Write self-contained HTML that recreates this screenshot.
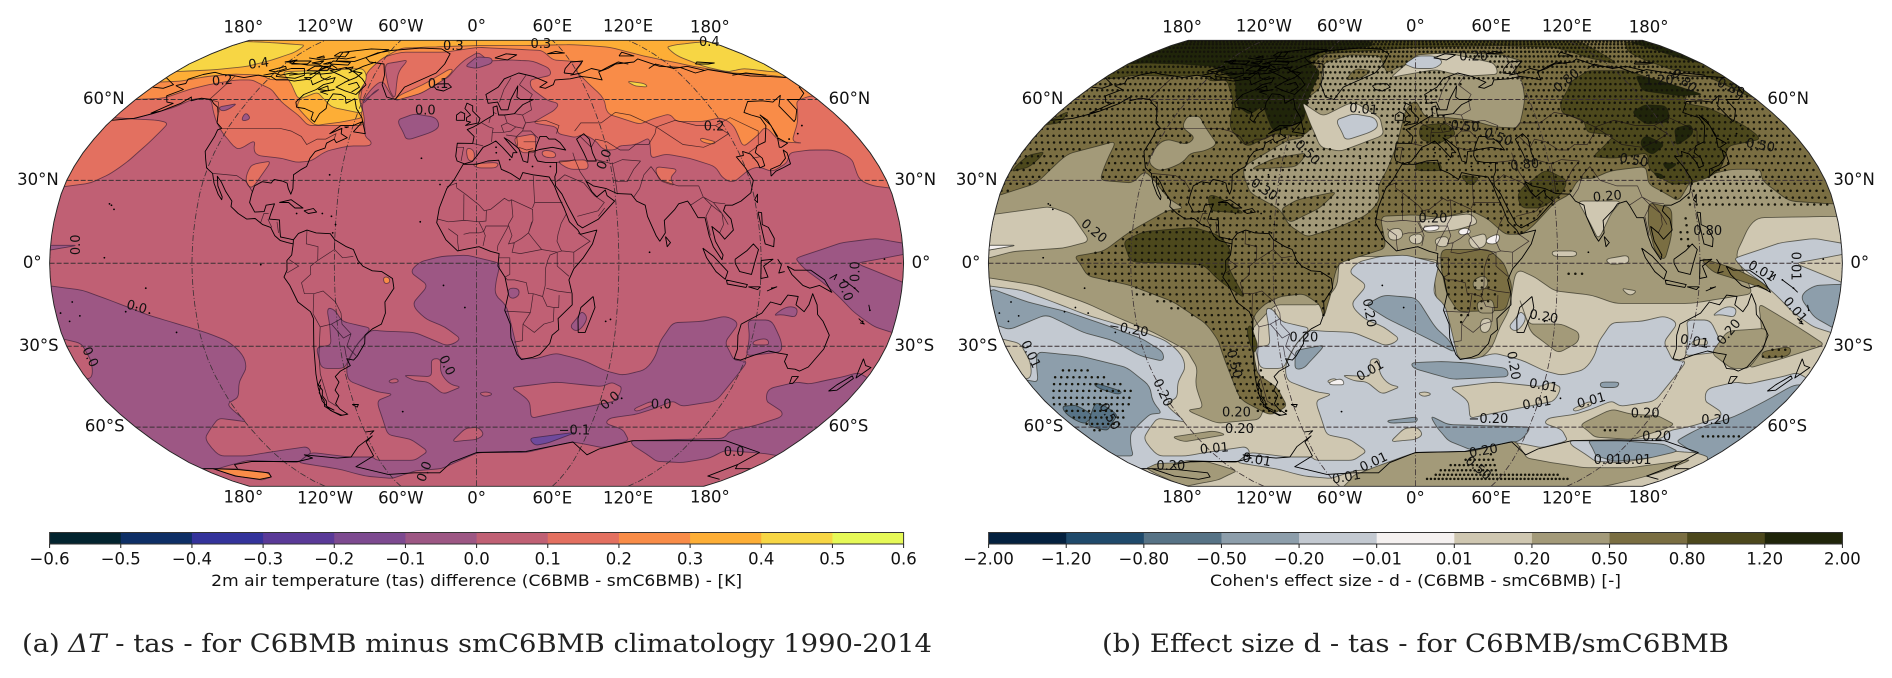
<!DOCTYPE html>
<html lang="en">
<head>
<meta charset="utf-8">
<title>C6BMB minus smC6BMB tas difference and effect size</title>
<style>
html,body{margin:0;padding:0;background:#fff;width:1892px;height:678px;overflow:hidden}
svg{display:block;filter:blur(.3px)}
text{font-family:"DejaVu Sans","Liberation Sans",sans-serif;fill:#111}
.cap{font-family:"DejaVu Serif","Liberation Serif",serif;font-size:25.5px;fill:#222}
</style>
</head>
<body>
<svg id="figure" xmlns="http://www.w3.org/2000/svg" width="1892" height="678" viewBox="0 0 1892 678">
<rect width="1892" height="678" fill="#fff"/>
<g id="panelA"></g>
<g id="panelB"></g>
<text class="cap" x="22" y="652" textLength="910" lengthAdjust="spacingAndGlyphs">(a) <tspan font-style="italic">ΔT</tspan> - tas - for C6BMB minus smC6BMB climatology 1990-2014</text>
<text class="cap" x="1102" y="652" textLength="627" lengthAdjust="spacingAndGlyphs">(b) Effect size d - tas - for C6BMB/smC6BMB</text>
</svg>
<script>
/* ---------- colour bar data ---------- */
const tempLevels=["−0.6","−0.5","−0.4","−0.3","−0.2","−0.1","0.0","0.1","0.2","0.3","0.4","0.5","0.6"];
const tempColors=["#03242f","#0e2f66","#34339b","#5a3a98","#7d4a90","#9d5784","#c06074","#e37060","#f98c48","#fdae36","#f7d644","#e6f957"];
const effectLevels=["−2.00","−1.20","−0.80","−0.50","−0.20","−0.01","0.01","0.20","0.50","0.80","1.20","2.00"];
const effectColors=["#04213f","#1f4a6b","#577386","#8d9eab","#c3c9d1","#f5f1f0","#cfc7b1","#a39a79","#7a6e42","#4c481c","#20250a"];
const lonTicks=[-180,-120,-60,0,60,120,180];
const lonTickLabels=["180°","120°W","60°W","0°","60°E","120°E","180°"];
const latTicks=[60,30,0,-30,-60];
const latTickLabels=["60°N","30°N","0°","30°S","60°S"];

/* ---------- geography: lon, lat ---------- */
const coastlines=[
[[-168,65.6],[-164,66.5],[-166,68.3],[-161,70.3],[-156,71.3],[-150,70.4],[-141,69.7],[-135,69],[-128,70],[-124,69.5],[-120,69.5],[-115,68],[-108,68],[-104,67.5],[-100,68],[-96,68.3],[-94,71.5],[-90,69],[-86,68],[-82,69],[-81.5,67],[-86,66],[-88,64],[-93,62],[-94.5,59],[-92.5,57],[-88,56.5],[-82.5,55],[-82,52.5],[-79.5,51.3],[-79,54.5],[-77,56.5],[-78,59],[-77.5,62.3],[-73,62],[-70,61],[-68,58.5],[-64.5,60.3],[-61.5,56.5],[-57,53],[-56,51.5],[-60,50],[-66,50],[-70,47],[-65,49],[-64.5,47],[-61,45.5],[-65.5,43.7],[-67,45],[-70,43.5],[-70,41.7],[-74,40.5],[-75.5,38],[-76,35],[-78,34],[-81,32],[-80,27],[-80.5,25],[-82,27],[-83,29],[-85,29.7],[-89,30.3],[-90,29],[-94,29.5],[-97,28],[-97.5,25],[-97.8,22],[-95,18.5],[-91,18.7],[-90.5,21],[-87,21.5],[-88,18],[-88.5,16],[-84,15.7],[-83.5,12],[-83,9.5],[-80,9],[-77.5,8.5],[-77.5,7],[-80,7.5],[-83,8.2],[-85.5,10],[-87.5,13],[-91,14],[-94.5,16.2],[-98,16],[-102,18],[-105.5,20.5],[-105.5,22.5],[-109,26],[-112,29.5],[-114.5,31.5],[-113,28],[-110,24],[-110,23],[-112,25],[-115,29],[-117,32.5],[-120.5,34.5],[-122.5,37.5],[-124.5,40.5],[-124,46],[-124.5,48.4],[-123,49],[-127,51],[-130,54.5],[-133,57],[-137,58.5],[-140,60],[-146,60.5],[-150,59.5],[-152,61],[-154,58.5],[-160,55.5],[-164,54.7],[-158,58.5],[-162,59],[-166,61.5],[-161,64],[-168,65.6]],
[[-77.5,8.5],[-75.5,10.8],[-72,12],[-68,11],[-62,10.7],[-60,8.5],[-55,6],[-52,5],[-50,1],[-48,-1],[-44,-2.7],[-40,-3],[-35.5,-5.5],[-35,-9],[-39,-14],[-39,-18],[-41,-22],[-45,-23.7],[-48.5,-26],[-49,-29],[-53,-33.5],[-55,-35],[-58,-34.5],[-57,-37],[-62,-39],[-65,-41],[-64,-43],[-67,-46],[-66,-48],[-69,-51],[-68,-53],[-65,-55],[-69,-55.5],[-73,-53.5],[-75,-50],[-74.5,-45],[-73.5,-40],[-71.5,-30],[-70,-20],[-71,-17.5],[-76,-14],[-79,-8],[-81.3,-5],[-80,-2.5],[-80,1],[-78,3],[-77.5,7],[-77.5,8.5]],
[[-6,35.8],[0,35.8],[5,37],[10,37.3],[11,34],[15,32.5],[19,30.3],[20.5,32.8],[25,32],[32,31.2],[34,28],[35.5,24],[37.5,20],[39.5,15],[43,12],[44,10.5],[51,12],[49,7],[45,2],[41,-2],[39,-6],[40.5,-11],[40.7,-15],[35,-20],[35.5,-24],[32.8,-26],[32,-29],[28,-33],[25,-34],[20,-34.8],[18,-33],[15,-27],[14.5,-22],[12,-17],[13.5,-11],[12,-5],[9,-1],[9.5,3.5],[6,4.3],[1,6],[-4,5.2],[-8,4.5],[-13,8.5],[-17,14.7],[-16,20],[-13,27],[-10,30],[-6,35.8]],
[[-5.5,36],[-2,36.8],[0,38.7],[3,42],[6,43],[9,44.3],[12,42],[16,38.2],[16.7,40],[18.5,40],[13,45.5],[15,44.5],[19.5,41.5],[21,37],[23,36.5],[24,40.5],[27,40.7],[29,41.2],[35,42],[41,41],[39,43.7],[37,45],[34,45],[33,46],[30,46],[28,43],[27,41],[26.5,39],[27.5,37],[31,36.5],[36,36.5],[35.5,33],[34.5,31.3],[34.5,28],[37,25],[39,21],[43,14],[45,12.8],[52,16],[59.5,22.5],[56.5,24.5],[56,26.5],[52,24],[50,26],[48,29.7],[51,28],[56.5,27],[61,25.2],[67,25],[69,22.5],[72.5,21],[73,17],[76,10],[77.5,8],[80,11],[80,15.5],[85,19.5],[87,21.5],[91,22.5],[92,21],[94.5,16.5],[97.5,16.5],[98.5,10],[100,6],[103.5,1.3],[104,3],[101,8],[100,13.3],[103,11],[105,8.7],[109,12],[108.5,16],[105.8,19],[107,21],[110,21],[114,22.5],[119,25.5],[121.5,30],[120,34.5],[118,38.5],[121.5,39],[122,40.5],[125,39.5],[126.5,36.5],[126.5,34.5],[129,35.3],[129.5,38],[127.5,40],[130,42.5],[135,44],[140.5,50],[141,53],[137.5,54],[135,55],[142,59.2],[150,59.5],[155,59],[163,61.7],[156,57.5],[156,51.5],[158,52.5],[163,56],[164,60],[170.5,60],[177,62.5],[179,65],[180,65],[180,69],[170,69.5],[160,69.7],[150,71],[140,72.5],[130,71],[125,73.5],[113,74],[105,77.5],[100,76],[87,75],[80,73],[73,71.5],[72,68],[66,69],[61,69.5],[54,68.5],[45,68],[43,66],[38,64.5],[35,65],[40,67],[33,69.5],[25,71],[16,68.5],[12,65],[5,62],[6,58.5],[11,59],[12.5,56],[16,56],[18,60],[23,65.5],[21.5,61],[23,60],[30,60],[24,58],[21,56],[19,54.5],[14,54],[11,54],[10.5,57.5],[8.5,57],[8.5,54],[4,52],[1.5,50.8],[-1.5,49.5],[-4.5,48.5],[-1.2,46],[-1.8,43.4],[-9,43.5],[-9.5,38.7],[-8.8,37],[-5.5,36]],
[[-180,65],[-173,64.5],[-170,66],[-175,67.5],[-180,69]],
[[-5.5,50],[1,51],[1.7,52.7],[-2,55.5],[-2,57.5],[-5,58.6],[-6,56.5],[-3,54],[-5,53],[-5,51.7],[-3,51.3],[-5.5,50]],
[[-10,52],[-6,52],[-6,54.5],[-8,55.2],[-10,54],[-10,52]],
[[-24,65.5],[-22,64],[-18,63.4],[-14,65],[-16,66.4],[-22,66.3],[-24,65.5]],
[[-73,78.2],[-68,80.5],[-60,82],[-40,83.5],[-25,83],[-18,80],[-20,75],[-24,71],[-32,68],[-40,65],[-43,60],[-48,61],[-53,66],[-54,70],[-58,75],[-68,76],[-73,78.2]],
[[-62,66],[-65,62],[-72,63.5],[-78,65],[-73,68],[-80,70],[-88,72],[-80,73.5],[-72,71],[-66,68.5],[-62,66]],
[[-125,72],[-118,74],[-116,73],[-120,71.5],[-125,72]],
[[-117,69.5],[-105,68.7],[-101,70],[-105,73],[-113,73],[-118,71.5],[-117,69.5]],
[[-116,75],[-106,75],[-106,76.5],[-116,76.5],[-116,75]],
[[-102,72],[-95,71.8],[-93,74],[-100,74],[-102,72]],
[[-95,72],[-90,72],[-90,74],[-95,74],[-95,72]],
[[-92,75],[-80,74.5],[-80,75.8],[-92,76.5],[-92,75]],
[[-95,79],[-87,78.5],[-88,81],[-94,81],[-95,79]],
[[-90,76.5],[-78,76.3],[-62,82.5],[-75,83],[-92,81],[-90,76.5]],
[[-87,64],[-81,63.5],[-83,65.5],[-87,64]],
[[-100,69],[-96,69],[-96,68],[-100,69]],
[[-122,76],[-116,77],[-118,76],[-122,76]],
[[-96,75],[-93,75],[-93,76],[-96,75]],
[[-104,75.5],[-98,75],[-98,76.5],[-104,75.5]],
[[-105,78],[-100,78],[-102,79],[-105,78]],
[[-80,73],[-76,72.7],[-76,73.7],[-80,73]],
[[-64,49.5],[-62,49.5],[-63,49.2],[-64,49.5]],
[[-59,47.7],[-53,47],[-56,51.5],[-59,47.7]],
[[52,71],[57,70.6],[68,76.5],[60,76],[54,73],[52,71]],
[[12,78],[20,80],[27,79.5],[20,77],[12,78]],
[[95,79],[105,79],[100,81],[95,79]],
[[137,75],[145,75],[150,75.5],[140,76],[137,75]],
[[48,80],[60,80.5],[55,81.5],[48,80]],
[[-85,22],[-80,23],[-74.5,20],[-78,20],[-81,22],[-85,22]],
[[-74,19],[-70,19.8],[-68.5,18.5],[-72,18],[-74,19]],
[[49.5,-12],[50.5,-16],[47,-25],[44,-25],[43.5,-20],[44.5,-16],[49.5,-12]],
[[80,9.7],[82,7.5],[80.5,6],[80,9.7]],
[[95.5,5.5],[100,2.5],[106,-3],[105,-5.8],[101,-3],[97,2],[95.5,5.5]],
[[105.5,-6],[114.5,-7.7],[114,-8.7],[106,-7.5],[105.5,-6]],
[[109,1.5],[114,4.5],[117,7],[119,5],[117.5,1],[116,-4],[111,-3],[109,0],[109,1.5]],
[[120,1],[125,1.5],[121,-1],[123,-5],[120,-5.5],[120,1]],
[[120.5,18.5],[122,18.3],[121.5,14],[124,13],[126,9],[125.5,6],[122,7],[121,13],[120.5,18.5]],
[[120,23],[121.7,25],[121,22],[120,23]],
[[130,31.5],[131,34],[136,35.5],[140,38],[141,41],[142,40],[141,36],[137,34.6],[133,33.3],[130,31.5]],
[[140,42],[142,45.5],[145,43.5],[141,42],[140,42]],
[[142,46],[143,50],[142,54],[143.5,52],[142.5,46],[142,46]],
[[131,-1],[134,-2.5],[141,-2.5],[147,-6],[150.5,-10.5],[145,-8],[141,-9],[138,-8],[133,-4],[131,-1]],
[[114,-22],[113.5,-26],[115,-31],[115,-34.5],[118,-35],[124,-33],[129,-31.7],[134,-32.5],[138,-33],[138,-35.5],[141,-38],[144.5,-38.3],[147,-39],[150,-37.5],[153,-31],[153.2,-26],[149,-21],[146,-18.5],[145,-15],[142.5,-11],[141.5,-15],[140,-17.5],[136,-15],[136.5,-12],[132,-11.5],[129.5,-15],[125,-14],[122,-18],[118,-20],[114,-22]],
[[145,-41],[148,-41],[147.5,-43.5],[146,-43.5],[145,-41]],
[[172.7,-34.5],[175.5,-37],[178.5,-37.7],[175,-41.5],[174,-39.5],[172.7,-34.5]],
[[172.5,-40.7],[174,-41.7],[170.5,-46],[167,-46.3],[168.5,-44],[172.5,-40.7]],
[[47,45],[51,47],[53,45],[53,40],[54,37],[50,37],[49,40],[47,45]],
[[-61,-51.3],[-58,-51.3],[-59,-52.3],[-61,-51.3]],
[[0,-70.5],[29,-70],[54,-66],[66,-71.5],[71,-69],[87,-65.5],[118,-65.5],[139,-65.5],[167,-70.5],[166,-76],[162,-82],[176,-84]],
[[-157,-78],[-154,-76],[-140,-74.5],[-111,-74.5],[-100,-73],[-103,-71.5],[-85,-73],[-76,-72.5],[-68,-68],[-57,-63.5],[-62,-66],[-62,-72],[-78,-77],[-61,-81],[-42,-80],[-25,-80],[-16,-75],[0,-70.5]],
[[-173,-78],[-157,-78.5],[-141,-80],[-145,-82.5],[-157,-84],[-169,-82],[-173,-78]],
[[-180,52],[-170,52.7],[-163,54.5],[-160,55.5]],
[[-110,70],[-100,71],[-92,70.5],[-86,71],[-82,72.5]],
[[-75,67],[-70,69],[-68,71],[-76,72]],
[[-98,70],[-94,72.5],[-90,74.5],[-85,73]],
[[-73,-44],[-75,-47],[-74,-50],[-75,-52],[-72,-54],[-68,-55.5]],
[[-72,-42],[-74,-44],[-73,-46],[-74,-48],[-73,-50],[-74,-52],[-71,-53.5]],
[[-125,70],[-120,71],[-115,70],[-110,71],[-105,70.5]],
[[-118,75.5],[-110,75],[-105,74.5],[-98,74.5],[-92,73.5],[-86,72.5]],
[[-110,78],[-100,77],[-92,78],[-85,77.5],[-80,78.5]],
[[-95,68],[-92,66],[-88,68],[-85,69.5]],
[[-72,66],[-68,67],[-65,65],[-68,63]],
[[-80,62],[-85,63],[-78,64]],
[[-64,76],[-70,74],[-76,71]],
[[55,70],[62,71],[70,73],[75,72],[82,74],[90,76],[95,75]],
[[105,73],[112,75],[120,73],[130,74],[138,72]],
[[150,70],[160,71],[170,70]],
[[123,-10],[127,-8.5],[125,-9]],
[[115,-8.5],[120,-8.5],[119,-9.5],[115,-8.5]],
[[127,1.5],[128.5,-0.5],[127.5,-3.5],[130,-3]],
[[149,-5.5],[152,-4],[151,-6]],
[[155,-6],[160,-9],[162,-10.5]],
[[167,-15],[168,-17]],
[[164,-20],[167,-22],[165,-21.5]],
[[-60,-62],[-55,-61.5],[-58,-63]],
[[166,-76],[170,-78],[180,-78]],
[[-180,-78],[-173,-78]]
];
const smallIslands=[[-155.5,19.5],[-157,21],[-158,21.5],[-91,-0.5],[-150,-17.5],[-145,-16],[-140,-9],[-172,-14],[-175,-21],[-178,-18],[168,-17],[166,-21],[160,-9],[155,-6],[172,1.5],[-157,2],[-140,-18],[-170,-19],[-130,-25],[57.5,-20.3],[55.5,-21],[73,4],[-25,38],[-16,28.5],[-24,15],[-5,-16],[-14,-8],[-37,-54],[70,-49],[158,50],[147,45],[153,47],[125,-9],[-60,14],[-62,17],[-66,18],[-61,11],[-77,18],[-65,32],[15,37.5],[9,40],[9,42],[33,35],[25,35],[-50,0]];
const countryBorders=[
[[-8.7,27.4],[-8.7,29],[-13,27.7]],[[-8.7,27.3],[-4.8,25],[1.2,21],[3.3,19],[4.2,19.2],[6,19.5],[12,23.5],[14,22.5],[15,23]],[[25,31.7],[25,22],[24,20]],[[25,22],[37,22]],[[15,23],[24,19.5],[24,15.5]],[[15,23],[15.5,16.9],[13.5,14],[15,10],[13.5,7],[16,7.5],[19,9],[22,11],[23.5,15]],[[4.2,19.2],[4,15.3],[1,15],[3,11.5],[3.7,10],[2.7,6.3]],[[-12,15],[-5,15.5],[1,15]],[[-16.5,16],[-12,15],[-5.5,15.5],[-5.5,25]],[[-12,12.5],[-8,10],[-8,7.5],[-7.5,4.5]],[[-5.5,10.5],[-3,11],[1,11],[3,11.5]],[[3,11.5],[4,13.5],[13.5,13.5]],[[13.5,13.5],[9,6.5],[8.7,4.5]],[[24,15.5],[22,11],[24,8.7],[27.5,5],[34,4],[36,4.5],[35.5,5],[34,8],[34.5,10.5],[36,14.5],[38.5,18]],[[16,7.5],[15,4],[18.5,3.5],[27.5,5]],[[12,-5],[13,-6],[16,-6],[21,-7],[22,-11],[24,-11],[28,-12],[29,-8],[29,-2],[30,1],[31,3],[34,4]],[[41,4],[36,4.5]],[[34,4],[34,-1],[39,-4.7]],[[41,-1.5],[41,4],[48,8],[43,11]],[[29.5,-9],[34,-10],[40,-10.7]],[[12,-17.3],[23,-17.8],[24,-11]],[[16.5,-28.5],[20,-28],[20,-22],[23,-17.8]],[[20,-22],[25,-25],[29,-22],[33,-21],[33,-16],[30,-15.5],[28,-12]],[[35,-11.5],[35,-16],[33,-16]],[[9.5,2],[14,2],[14,-4],[12,-5]],
[[-72,12],[-72,7],[-67,6],[-67,1],[-70,-1],[-70,-4],[-74,-7],[-73,-11],[-69,-11],[-65,-10],[-60,-14],[-58,-18],[-58,-22],[-54.5,-25.5],[-57,-30],[-53.5,-33.5]],[[-60,8.5],[-60,5],[-56.5,2],[-52,2.5]],[[-67,1],[-60,5]],[[-80,-3.5],[-75,-1],[-79,1.3]],[[-70,-18.3],[-69,-11]],[[-70,-18.3],[-67.5,-23],[-70,-33],[-71.5,-40],[-72,-50],[-69,-52]],[[-67.5,-23],[-62.5,-22],[-58,-20]],[[-62.5,-22],[-58,-27],[-54.5,-25.5]],[[-58,-34],[-58,-30]],
[[-123,49],[-95,49],[-89,48],[-83,46],[-79,43],[-75,45],[-71,45],[-67,47],[-67,45]],[[-141,69.7],[-141,60],[-135,59],[-130,55]],[[-117,32.5],[-106,31.7],[-101,29.5],[-97.5,26]],[[-92,14.5],[-91,18],[-89,18]],[[-89,16],[-87,13]],[[-85,15],[-84,11]],
[[-9,42],[-6,42],[-7,37]],[[-1.8,43.4],[3,42.5]],[[2.5,51],[6,49.5],[8,49],[7.5,47.5],[7,44]],[[6,51],[7,53.5]],[[8.5,55],[10,54.5]],[[14,54],[15,51],[12,50],[13,47.5],[7.5,47.5]],[[15,51],[19,49.5],[22.5,49],[24,51],[23,54],[19,54.5]],[[13,47.5],[16.5,48],[19,49.5]],[[14,46.5],[19,46],[22,48],[26,48],[29,45.3]],[[22,44],[28,44]],[[19.5,42],[23,41],[26,41.5]],[[19,46],[19,42.5]],[[23,54],[28,56],[28,60]],[[24,51],[34,52],[40,50],[38,47]],[[22,48],[24,51]],[[12,59],[15,64],[20,69]],[[24,66],[29,70]],[[24,66],[30,62],[28,60]],
[[36,36.5],[42,37],[44.5,37.5],[44,40]],[[44.5,37.5],[46,33],[48,30]],[[61,25],[61,31],[61,36.5]],[[54,37.5],[61,36],[66,37.5],[74,37]],[[49,46],[53,42],[56,45],[61,44],[66,41],[70,41],[74,43],[80,43],[85,47],[87,49.5]],[[47,48],[51,51],[61,51],[70,55],[77,54],[87,49.5]],[[87,49.5],[98,52],[107,50],[116,50],[120,47],[112,44],[105,42],[96,43],[87,49.5]],[[116,50],[126,53],[135,48],[131,43]],[[124.5,40],[130.5,42.5]],[[125,38],[128.5,38.5]],[[61,29.5],[66,29.5],[70,34],[74,37]],[[68,24],[71,27],[74,32],[78,35]],[[78,35],[81,30],[88,28],[97,28]],[[97,28],[98,24],[92,21]],[[98,24],[101,21],[98,17],[99,10]],[[101,21],[105,18],[105,14],[103,11]],[[102,22],[105,18],[107,14]],[[98,24],[102,22],[107,21.5]],[[35,29.5],[39,32],[47,29],[51,24.5],[55,22],[52,19],[43,17]],[[55,20],[52,17]]
];

/* ---------- shared zero-contour regions ---------- */
const negPacificSouth=[[-182,-8],[-167,-9.7],[-154,-14],[-140.8,-18.7],[-127.4,-22.3],[-116.4,-25.3],[-108.5,-28.2],[-103.6,-33],[-104,-37.7],[-111,-43.5],[-114.4,-48.5],[-121.8,-51],[-122,-53],[-118.8,-58],[-132,-56.5],[-150,-64.5],[-153,-68.5],[-154.6,-72],[-138,-72],[-118.5,-70],[-97,-68],[-97.5,-70.5],[-111.7,-75],[-141,-74],[-170,-78],[-182,-78]];
const negAtlanticIndian=[[-24,0.5],[-28.2,-3],[-20.5,-8],[-27.7,-15],[-22.2,-20],[-13.7,-23],[-6.6,-27.5],[-12.5,-30],[-26.8,-25],[-41.3,-24.5],[-45.5,-24],[-52.7,-29.5],[-59,-37.5],[-59.6,-42.5],[-47.5,-46.5],[-40,-47.5],[-48.6,-50],[-48.2,-55.5],[-48.3,-63],[-36.2,-65],[-28.5,-70],[-38.2,-74],[-62,-74],[-62.7,-72.5],[-76.9,-72.5],[-97.5,-70.5],[-111.7,-75],[-89,-78.5],[-78,-82],[-60.8,-83.5],[-41,-79],[-23,-78],[1,-70.5],[29,-70.5],[54,-66],[73,-68.5],[85,-65.5],[78,-61],[67,-58.5],[68,-56.5],[80.6,-55],[87.7,-53],[95.2,-50],[101.4,-52],[116.3,-50],[118.8,-42.5],[121.4,-35.5],[115,-35],[108.5,-28.5],[113,-21.5],[107,-19],[97.2,-21],[84.4,-21.5],[80,-28.5],[79.8,-33.5],[77,-38.5],[67,-40.5],[59,-39],[47.5,-35],[35,-32.5],[26.5,-34.5],[19,-34.5],[17.3,-29.5],[12.6,-15],[7.6,-11.5],[8.2,-6.5],[10,0],[-4,3],[-15,2.5]];
const negPacificEast=[[137.3,-45.5],[148.6,-43],[155.5,-43.7],[169.7,-40.8],[174,-39.5],[182,-42],[182,-72],[171.7,-71],[144.5,-69.5],[142.5,-73],[129,-75],[112,-74.5],[89,-67.5],[86,-65.5],[136.7,-64.5],[135.5,-61.5],[146,-59.5],[155.6,-56],[153,-54],[140.5,-50]];
const negWestPacific=[[135,2],[147.5,5.5],[154.5,7.5],[169,9],[182,7],[182,3.5],[160,0],[182,-7.5],[182,-25.5],[171.7,-23],[166.7,-20.5],[161,-17.5],[153,-11.5],[146,-6.7],[139,-2.5],[135,1]];
const negDatelineWedge=[[-182,6.5],[-168.5,6.5],[-182,4.5]];
const negNorthAtlantic=[[-39.4,52],[-31.2,54.5],[-20,53],[-17.8,49.5],[-21.6,47.5],[-32.9,44.5],[-35,47.5]];
const negSouthAmerica=[[-64,-16],[-60.5,-16.7],[-58,-21],[-45.5,-23.5],[-52.7,-29.5],[-57,-34.5],[-59.7,-38],[-70.3,-38],[-70.5,-30.5],[-63.7,-29.5],[-63.3,-22]];
const negAustraliaWest=[[116.5,-20.5],[126.6,-20.5],[133.4,-28.5],[135,-32],[119.8,-33.5],[118.8,-27]];
const negAustraliaNorth=[[127,-19],[132,-15.5],[137,-16],[137,-19.5],[130,-18.5]];
const negMadagascar=[[45,-17],[48,-20],[44,-25],[40,-23],[43,-20]];
const negCongo=[[13,-9],[18,-9],[18,-12],[14,-13]];
const negWesternCanada=[[-133,57],[-124,58.5],[-128,55]];
const negPrairie=[[-117,55.3],[-111.5,52.5],[-116,51.5]];
const negLabrador=[[-60,59],[-53,64.5],[-56,63],[-58.5,58.5]];
const posSouthIndian=[[16.2,-45],[37,-43],[59.2,-44.7],[62.6,-43],[68.7,-45],[67.7,-50],[58.8,-51.5],[40,-54.5],[27.9,-56.5],[25.7,-50],[20.4,-47]];
const posKerguelen=[[78,-53],[85,-50],[87,-51.5],[80,-54]];
const posSouthAtlanticA=[[1,-47],[5,-46.5],[8,-47.5],[4,-48.5]];
const posSouthAtlanticB=[[-14,-66],[-6,-60.5],[1,-60],[4.3,-63],[0,-65],[-8,-65.5]];
const posSouthAtlanticC=[[-41,-42.5],[-37,-41.5],[-36,-43],[-40,-43.5]];
const posSouthAtlanticD=[[-33.8,-40.5],[-20.7,-41],[-20.2,-34.5],[-15.7,-34.5],[-16.8,-39.5],[-12.5,-44],[-7,-44.7],[-16,-47.5],[-22.5,-43],[-28.7,-42.5]];
const posPacificPocket=[[-182,-27],[-173,-29],[-172.5,-35.5],[-177,-41.5],[-182,-42]];
const posAustralia=[[121,-28],[126.5,-27],[128.5,-29.5],[121,-29.5]];
const negativeRegions=[negPacificSouth,negAtlanticIndian,negPacificEast,negWestPacific,negDatelineWedge,negSouthAmerica,negAustraliaWest,negAustraliaNorth,negMadagascar,negCongo];
const positiveIslands=[posSouthIndian,posKerguelen,posSouthAtlanticA,posSouthAtlanticB,posSouthAtlanticC,posSouthAtlanticD,posPacificPocket,posAustralia];

/* ---------- panel (a) warm regions ---------- */
const salmonNorth=[[-182,53],[-170,52.5],[-155,57],[-149.6,60.5],[-140,60],[-129.4,52.5],[-120,46.5],[-117,45],[-113,42.5],[-109,41],[-104,45],[-102.6,41],[-100,39],[-88.5,38],[-81,36.5],[-74.5,37],[-69.5,40.5],[-59.6,42.5],[-49.5,42.5],[-49,44],[-53,46],[-54,49.5],[-60,59],[-58,64.5],[-54,68],[-43,59.5],[-30,62.5],[-18.4,68.5],[-16.5,69],[-12.4,73.5],[-7.6,77],[1,81],[8,76.5],[21,77],[36,76.5],[44.6,73],[43.7,70],[30.5,68],[30,64.5],[37.5,59.5],[43,58.5],[40,56],[31,52.5],[27.5,51],[39,49.5],[38.6,47],[47,45.5],[50.5,47],[56,44.5],[58,41],[64,41],[66,42.5],[74,43],[81.5,45.5],[79,38],[86.5,39.5],[96.5,38],[107,35],[108,31],[112,29],[121.6,34],[126.5,35],[131,33],[140,36.5],[143,40],[153,41],[164.4,41],[170,38],[169,35],[168,30],[173,28],[182,27],[182,92],[-182,92]];
const salmonPacific=[[-182,27.5],[-169,29],[-162,32.5],[-157,37],[-153,43.5],[-151,49],[-151,51],[-157,52],[-170,52.5],[-182,53]];
const salmonPlains=[[-99.5,36],[-92.5,37],[-95,32],[-98,26.5],[-101.8,30],[-101.4,35]];
const salmonIberia=[[-5,42],[-1,41],[-1,37],[-4,37]];
const salmonMaghreb=[[-2,36],[10,36.5],[9,34.5],[0,34.5]];
const salmonBalkans=[[17,45.5],[28,47],[27,40],[20,40]];
const salmonTurkey=[[30,41],[36,40.5],[36,38],[30,38.5]];
const salmonPersia=[[36,37],[50,37.5],[50,34],[41,34]];
const salmonHimalaya=[[79.5,35],[90,34],[85,31],[86.5,28],[80,30]];
const pinkGreenland=[[-57.5,75],[-44,77],[-47,72],[-43,60],[-47.6,63.5]];
const violetAmery=[[29,-64.5],[54,-62],[40,-66.5],[33,-67.5]];
const violetBarents=[[-7,74],[0,78.5],[10,78],[10,75.5],[0,73]];
const orangeNorth=[[-182,60],[-166,60.5],[-158,64],[-150.5,66],[-138,68],[-128.6,68],[-112.5,64],[-102,59],[-89.4,54],[-81.8,50],[-77,50],[-55,50],[-55.6,53],[-61,59],[-65,69],[-68,75.5],[-62.7,78],[-51.8,81],[-22,81],[1,84],[23.5,83],[46.4,82],[49,77],[67.5,76],[59.7,72],[61,69.5],[63.7,65.5],[67.9,60.5],[65.3,54.5],[71,53],[79.4,50.5],[87,52.5],[97.2,54.5],[98,51.5],[111,51.5],[121.6,53],[125,50.5],[123.2,42],[134.7,47],[140.5,50],[141.5,44],[152.5,43.5],[147.5,44],[152,47.5],[159,52.5],[168,59.5],[179,61.5],[182,61],[182,92],[-182,92]];
const orangeGreenlandRim=[[-43,59.5],[-30,62.5],[-18,68.5],[-14,72],[-16,73],[-30,66],[-42,61.5]];
const orangeRoss=[[-173,-78],[-157.7,-78],[-141.5,-80],[-144.8,-82.5],[-157,-84.5],[-168.7,-82]];
const orangeNortheastBrazil=[[-39.5,-5],[-37,-5],[-36.5,-7],[-39,-7.5]];
const orangeTibet=[[105.5,45.5],[112,44],[110,43],[105,44]];
const amberNorth=[[-182,67],[-168.7,67.5],[-157,69.5],[-143,70.5],[-126,70],[-118,68],[-109,68.5],[-102,67],[-93,60],[-93,57.5],[-78.6,50],[-65,51.5],[-56.4,53],[-63.8,60.5],[-63,65.5],[-65.5,71],[-62,77.5],[-54,83.5],[-21,84.5],[0,85],[36.5,85],[70,86],[96.5,84],[111,79],[133.7,74],[152,71],[172,70],[180,69],[182,69],[182,92],[-182,92]];
const amberYenisei=[[85.5,67.5],[95,66.5],[95,65],[88,65.5]];
const yellowWest=[[-182,71.5],[-158,72.5],[-141,74],[-132,77],[-125,81],[-127,85.5],[-160,88],[-182,89]];
const yellowEast=[[137.7,84],[150,86],[169,88],[182,89],[182,71.5],[177,71.5],[163,73],[150,71.5],[140,74],[133.6,79]];
const yellowCanada=[[-116,71.5],[-68.5,73],[-62.6,68],[-64.6,63],[-57,54.5],[-74.4,57],[-86.5,63],[-94,60],[-104.5,66.5]];

/* ---------- panel (b) regions ---------- */
const lightSouth=[[-182,-5],[-160,-8],[-139.8,-14.5],[-126.7,-20],[-113.5,-25],[-100.8,-31.5],[-98.7,-38],[-102.7,-43.5],[-105,-52.5],[-114,-53.5],[-103.5,-58.5],[-80,-57],[-72,-50],[-72,-25],[-60,-15],[-40,-15],[-33,-8],[-32,2.5],[-5,2.5],[10,1],[8,-6],[9,-14],[13,-25],[18,-33],[20,-36],[30,-34],[34,-30],[36,-24],[40,-17],[41,-10],[42,-4],[44,-2.5],[50.4,-5],[59,-10],[74.8,-11.5],[84.9,-14.5],[117.5,-14.5],[143,-11],[135,3],[141.4,13],[146,16.5],[182,17],[182,-92],[-182,-92]];
const lightTropicalPacific=[[-182,17.5],[-157,20.5],[-146.8,17.5],[-137.6,8],[-148.6,5.5],[-169.6,4.3],[-182,1.5]];
const lightLabrador=[[-59.4,59],[-46,53.5],[-34.8,58.5],[-30.5,58.5],[-17.5,53],[-15,46.5],[-34.4,40.5],[-44,42],[-47.5,46.5],[-54.3,54]];
const lightNordic=[[-14.6,69],[1,79.5],[22,80.5],[50,75.5],[49,70.5],[29,69.5],[12,72.5],[0,71]];
const lightSahel=[[1,15.5],[14,17],[24,18],[27,14.5],[17,12],[4,11]];
const lightGuinea=[[-12,12],[-6,13],[-5,9],[-11,8]];
const lightVolta=[[-3,10],[3,11],[3,7],[-2,7]];
const lightCameroon=[[8,9],[14,10],[14,6],[9,6]];
const lightUbangi=[[22,9],[30,11],[30,6],[24,5]];
const lightLimpopo=[[28,-20],[33,-20],[32,-25],[28,-25]];
const lightIndia=[[70,22.5],[89,22.5],[84,18.5],[77.4,8.5],[73.6,16]];
const lightArabianEllipse=[[57.5,4.5],[68,4.5],[68,2.5],[58,2.5]];
const lightBayEllipse=[[80,1.5],[90,3],[90,0],[82,-0.5]];
const lightJavaSea=[[87,-9],[94,-10],[91,-12]];
const whiteAtlanticStreak=[[-40,-43],[-34,-41.5],[-33,-44],[-40,-44]];
const whiteSahelWest=[[3,13],[10,14],[10,12],[4,11.5]];
const whiteSahelCentral=[[18,12],[22,13],[24,11],[19,10]];
const whiteSahelEast=[[30,9],[36,11],[35,7],[30,7]];
const whiteDatelineBar=[[-182,6.5],[-168.5,6.5],[-182,4.5]];
const grayNordic=[[-7,75],[1,79],[13,79],[18,76],[12,73],[0,73]];
const blueEquatorialBand=[[-180,-9],[-165,-14],[-149,-17.5],[-133,-22.5],[-118.7,-27.5],[-111.5,-32],[-112.8,-35.5],[-122.3,-33.5],[-131.8,-28],[-144,-25],[-158,-18.5],[-175.4,-24],[-182,-22]];
const blueSouthwest=[[-167.5,-32],[-149,-33.5],[-130.5,-37.7],[-124.3,-44.5],[-127.9,-50],[-127.4,-54.5],[-134,-55],[-154,-62.5],[-169.7,-72],[-182,-72],[-182,-42],[-175.3,-43]];
const blueSouthAtlantic=[[-21.3,-15],[-13.5,-11.5],[0.5,-12.5],[8.4,-23],[15,-28],[18,-32.5],[0,-25],[-12.2,-20]];
const blueCapeBand=[[-2,-36],[12,-35.5],[23,-36],[41.5,-38],[43,-41],[17,-42],[-1,-38]];
const blueArgentineBasin=[[-53,-31.5],[-39.5,-29.5],[-44.5,-33.5],[-50.6,-38],[-54.7,-38.5]];
const blueEnderby=[[7.4,-55.5],[17,-59],[61.4,-60],[59,-65.5],[32.7,-69.5],[18.3,-65.5],[11.2,-60]];
const blueSoutheast=[[146,-65],[151,-60],[162.4,-56],[170,-50],[177,-44],[182,-44],[182,-75],[177.5,-72.5],[162,-70],[147,-66]];
const blueWilkes=[[96.4,-65.5],[115,-65.5],[141,-67],[154,-70],[142.5,-73],[124,-74.5],[108.6,-72]];
const bluePacificTropic=[[164.5,-10.5],[169,-8],[182,-7.5],[182,-24],[171,-19.5],[164,-13]];
const blueDrake=[[-15,-57.5],[1,-56],[1,-58],[-13,-58.5]];
const blueIndianEllipse=[[86,-43],[95,-43],[95,-45],[87,-45]];
const deepBlueA=[[-174.6,-52],[-166.4,-51.5],[-163,-55.5],[-173.4,-59],[-176.6,-55.5]];
const deepBlueB=[[-155,-50],[-150,-55],[-165,-61.5],[-172,-59.5]];
const deepBlueC=[[-150,-43],[-139,-46.5],[-142,-47.7],[-150,-45]];
const tanEastAntarctica=[[0,-70.5],[33,-70],[55.5,-65.5],[68,-73],[85,-75],[110,-77.5],[140,-77.5],[170,-73.5],[165,-80],[150,-90],[100,-92],[-60,-92],[-43,-81.5]];
const tanRoss=[[-177,-78],[-163,-75.5],[-129.7,-74.5],[-119,-79],[-141.8,-84],[-182,-90]];
const tanAustralSea=[[86,-59],[97.6,-53],[109,-55],[122.7,-55.5],[135.6,-59],[132,-61],[120,-65],[98.6,-64]];
const tanAmundsen=[[-133.8,-64],[-108,-61.5],[-102.8,-63],[-130,-66]];
const tanMascarene=[[44,-12.5],[48.6,-22],[63,-22],[71,-25],[71.3,-28.5],[63.3,-32.5],[50,-25]];
const tanCoralSea=[[146,-14.5],[160.5,-21],[179.6,-29.5],[163.5,-34.5],[151,-38],[150,-24.7]];
const tanAustralia=[[131,-32.5],[135,-24.5],[152,-23.5],[153.5,-30.5],[151,-38],[143,-38]];
const tanCongo=[[24,-6],[30,-4],[31,-9],[25,-10]];
const tanZambia=[[26,-14],[33,-13],[34,-18],[27,-18]];
const oliveNorth=[[-182,24],[-165.8,29],[-159,39.5],[-140,44.3],[-139,33.5],[-138.4,30],[-123.4,29],[-120.8,33.5],[-116,31],[-106.7,23.5],[-99.5,20],[-106.5,19],[-121,11.5],[-131.5,4.4],[-144,2.5],[-141,-0.5],[-138.6,-4.5],[-120.5,-8],[-102.8,-14],[-89.9,-22],[-86,-28],[-85.8,-30.5],[-84.7,-40],[-84.7,-49.5],[-73.6,-55.5],[-63.2,-52],[-65,-45],[-72.5,-40],[-71.4,-31.5],[-69.4,-19],[-64.6,-15],[-57.4,-12],[-47.4,-11],[-40.5,-15],[-39.4,-20],[-35.4,-10],[-34.5,-5.5],[-32.6,0],[-12.3,5.5],[-15,17],[0,17.5],[11,16.5],[24,19],[31,16],[38,10.5],[45,10.5],[49.4,13],[60,22],[67,25],[72,31],[77.5,30.5],[87,33.5],[103,35],[102,28.5],[107,26],[113.5,22.5],[121,30],[129,32],[141,34],[154,34],[152,30],[161,22.5],[179,21.5],[182,21.5],[182,92],[-182,92]];
const oliveSoutheastAsia=[[100.4,22],[110,20],[108.5,10],[105,0.7],[101,4.5],[99,14]];
const oliveMaritime=[[120,2],[135,-2],[147,-7],[150,-10],[140,-7],[125,-3]];
const oliveCentralAfrica=[[10.7,5],[31,5],[37.4,0],[41,-8.5],[38.6,-17],[18.3,-17.5],[13.2,-11],[10.7,-1]];
const oliveTasman=[[153,-32],[165,-30],[166.5,-33.5],[155,-34.5]];
const oliveGulfStream=[[-72.5,34.5],[-64,38],[-49.5,40],[-52.8,35],[-72,34]];
const oliveTradeStripe=[[-58,19.5],[-51,23],[-34,26],[-41,20],[-54,14.5]];
const oliveGreenland=[[-37,73],[-26,72],[-32,68.5],[-40,68]];
const tanWesternUS=[[-121,37],[-120,43],[-117,45],[-106,43],[-104,45.5],[-113,49.5],[-114,53.5],[-107.6,53.5],[-101,49],[-92,43],[-97,40.5],[-103,40],[-104.5,36.5],[-110.5,34],[-115,33.5]];
const tanNorthAtlantic=[[-76,32],[-76.8,35],[-71.8,38],[-60.2,44.5],[-52.8,45.5],[-55,49],[-59.4,59],[-52.5,64.5],[-55.8,71.5],[-57.9,75.5],[-44,79.5],[-23.5,79],[-17,71],[-9.4,74],[22.6,81],[58,79.5],[68.5,76.5],[59.7,72],[61,68],[57.8,60],[49.8,49],[38.6,49.5],[27.6,52],[16.3,53],[5,53],[0,60],[-5,56],[-8.6,43],[-12.7,33.5],[-16.8,27.5],[-15,23],[-20.7,17.5],[-33,13],[-46,9.5],[-54,14],[-58,19.5],[-71.7,25.5]];
const darkEurasia=[[75.3,58.5],[89,67.5],[103.7,72],[127.7,72],[135,69],[149.6,64],[140,58.5],[150,57],[156.5,52.5],[161,49],[162.8,45],[145,42.5],[136.5,34.5],[130.7,31.5],[121,29],[112,28.5],[103.8,34],[106.5,40],[90.4,38],[80.5,38.5],[94.6,46.5],[81.8,47.5],[83.4,52],[73.7,54.5]];
const darkNorthAmerica=[[-182,69],[-174.8,68.5],[-165,70],[-143,69.5],[-124,70],[-117,67.5],[-108,68],[-96,60],[-89.6,49],[-78,42],[-67.5,47],[-53,46],[-48.9,50.5],[-58,60],[-56.5,71],[-65,75.5],[-62,80],[1,84],[61,85],[101,84],[114,78],[127,75],[127,92],[-182,92]];
const darkBeringEdge=[[178,61],[173,67],[168,71],[155,72.5],[148,77],[146.8,81],[161,88],[182,89],[182,61]];
const darkMiddleEast=[[44,24],[46,27],[58,34],[67,30],[63.4,25],[54,20],[45.6,20]];
const darkMaghreb=[[0,36.5],[11,36.5],[12,33.5],[0,33.5]];
const darkLibya=[[19.5,32],[28.5,31],[24,27.5]];
const darkEurope=[[2,50],[15,51],[20,47],[10,43],[2,45]];
const darkEastPacific=[[-123.5,8],[-115,11.5],[-94,13],[-82.7,10],[-77.4,4.5],[-79.4,0],[-78,-3],[-72,-13],[-84,-5.5],[-89,-0.5],[-120,0.5]];
const darkCaribbean=[[-90,25],[-85,24],[-77,20],[-73,18],[-88,19]];
const darkPacificNorthwest=[[-180,33],[-176.8,39],[-169.5,40.5],[-172,35]];
const darkAleutianEdge=[[-182,50],[-175.5,56],[-174,51]];
const darkAndes=[[-73,-24],[-71,-22],[-69,-30],[-72,-33]];
const darkestNorthAmerica=[[-182,75],[-171,75.5],[-147,75],[-125,74],[-103,68],[-92,57.5],[-82.7,54],[-78.8,58],[-67.8,47.5],[-55,51.5],[-56.7,60.5],[-56.8,71.5],[-70,77],[-65.6,81],[-30.8,85],[-35,89],[-182,90]];
const darkestBeringEdge=[[182,90],[165,88],[168,84.5],[172,79],[178,76],[182,75]];
const darkestSiberiaA=[[109,55],[119,58],[130,57.5],[125,51.5],[112,50.5]];
const darkestSiberiaB=[[104,43],[109,46.5],[116,43],[107.5,39]];
const darkestSiberiaC=[[125,49],[134.5,50.5],[132.5,47],[121,42.5]];
const darkestSiberiaD=[[129,70],[139,68],[155,62],[142,61.5],[124,63.5]];
const darkestChinaA=[[111,36.5],[118,36],[112,33.5]];
const darkestChinaB=[[105,33],[110,32],[108,30]];

/* ---------- stippling masks ---------- */
const stippleWestPacific=[[121,32],[154,34],[161,22.5],[182,21],[182,19],[115,19],[117,4],[110,8]];
const stippleAndes=[[-121,-10.5],[-84.3,-23.5],[-83.6,-33],[-80,-55],[-64.2,-54],[-71,-35.5],[-68.6,-11.5],[-102.5,-10]];
const stippleSouthwest=[[-165,-39],[-150,-38],[-134,-45],[-136.8,-50],[-154.8,-59.5],[-172,-62],[-176.6,-55.5],[-178,-51]];
const stippleEastAntarctica=[[21,-75.5],[34,-73],[45,-71],[56,-80],[93,-79],[111,-84],[7,-84]];
const stippleCentralAfrica=[[10,3],[32,3],[37,-10],[20,-22],[14,-12]];
const stippleIndianPatch=[[63,-2],[73,-2],[73,-6],[63,-6]];
const stippleAustralSea=[[100,-60.5],[108,-60.5],[108,-61.5],[100,-61.5]];
const stippleSoutheastPacific=[[155,-63],[178,-62],[178,-65],[155,-65]];
const stippleAtlanticSouth=[[-60,34],[-15,34],[-15,18],[-20,17.5],[-33,13],[-46,9.5],[-54,14],[-58,19.5]];
const stippleGreenland=[[-58,76],[-22,79],[-20,71],[-40,62],[-50,62]];
const stippleExcludeRussia=[[16,53],[28,52],[50,49],[58,60],[61,68],[30,68],[10,60]];

/* ---------- contour labels: lon, lat, rotation, text ---------- */
const labelsA=[[-136.4,75,-8,"0.4"],[-145,67.5,-5,"0.2"],[-17,84.5,0,"0.3"],[48,86,0,"0.3"],[179,88,0,"0.4"],[-26,55.5,0,"0.0"],[115,49.5,0,"0.2"],[-169,6.7,-90,"0.0"],[-145,-16,15,"0.0"],[-172.4,-34,65,"0.0"],[-13.6,-37,65,"0.0"],[65,-50,-40,"0.0"],[90.7,-51.5,0,"0.0"],[52.4,-61.5,0,"−0.1"],[152,-70.5,0,"0.0"],[160,-3,-90,"0.0"],[156,-10,70,"0.0"],[-21.6,66,0,"0.1"],[58,37.5,-70,"0.0"],[-34.7,-79.5,-70,"0.0"]];
const labelsB=[[-26.4,56,5,"0.01"],[-49.6,40,45,"0.50"],[-66,26.5,35,"0.30"],[-136.5,11.5,40,"0.20"],[38.5,78.5,0,"0.20"],[86.4,67.5,-40,"0.80"],[139,67.5,0,"1.20"],[153,67.5,40,"0.80"],[174,64.5,25,"0.80"],[160,42.5,10,"0.50"],[24,49.5,5,"0.50"],[39,45.5,20,"0.50"],[49,35.5,-5,"0.80"],[98.5,37,10,"0.50"],[83,24,-5,"0.20"],[7.5,16,0,"0.20"],[124,11.5,0,"0.80"],[-124,-24,10,"−0.20"],[-171,-33,65,"0.01"],[-120.6,-47,65,"0.20"],[-81.8,-36.5,75,"0.50"],[-156,-56,60,"0.50"],[-90,-54.5,0,"0.20"],[-93.8,-61,0,"0.20"],[-116.6,-69,-5,"0.01"],[-98,-74,10,"0.01"],[-158,-77,0,"0.20"],[-49,-83,-10,"0.01"],[-26,-75,-25,"0.01"],[-20,-18,80,"0.20"],[-48.6,-27,0,"0.20"],[-20.5,-39,-30,"0.01"],[55,-19.5,10,"0.20"],[44,-37,80,"0.20"],[60,-44.5,10,"0.01"],[59.5,-51,-10,"0.01"],[85.5,-50,-15,"0.01"],[37.5,-57,0,"−0.20"],[116,-55,0,"0.20"],[40,-70,-10,"0.20"],[41,-78,40,"0.50"],[132.5,-64,0,"0.20"],[128,-74,0,"0.010.01"],[155,-57.5,0,"0.20"],[122,-28.5,10,"0.01"],[136,-25,-50,"0.20"],[162,-17,50,"0.01"],[160,-1,90,"0.01"],[146,-3,30,"0.01"]];

/* ---------- Robinson projection ---------- */
const TX=[1,.9986,.9954,.99,.9822,.973,.96,.9427,.9216,.8962,.8679,.835,.7986,.7597,.7186,.6732,.6213,.5722,.5322];
const TY=[0,.062,.124,.186,.248,.31,.372,.434,.4958,.5571,.6176,.6769,.7346,.7903,.8435,.8936,.9394,.9761,1];
const HALF_W=427,HALF_H=223,EQ_Y=263.3;
function makeProjection(cx){
  return function(lon,lat){
    const a=Math.abs(lat),i=Math.min(Math.floor(a/5),17),t=(a-i*5)/5;
    const X=TX[i]+(TX[i+1]-TX[i])*t,Y=TY[i]+(TY[i+1]-TY[i])*t;
    return [cx+HALF_W*X*lon/180,EQ_Y-HALF_H*Y*Math.sign(lat)];
  };
}
const NS='http://www.w3.org/2000/svg';
function el(tag,parent,attrs){
  const e=document.createElementNS(NS,tag);
  for(const k in attrs)e.setAttribute(k,attrs[k]);
  parent.appendChild(e);
  return e;
}
function densify(poly){
  const out=[];
  for(let i=0;i<poly.length;i++){
    const a=poly[i],b=poly[(i+1)%poly.length];
    const n=Math.max(1,Math.ceil(Math.max(Math.abs(b[0]-a[0]),Math.abs(b[1]-a[1]))/6));
    for(let j=0;j<n;j++)out.push([a[0]+(b[0]-a[0])*j/n,a[1]+(b[1]-a[1])*j/n]);
  }
  return out;
}
function smoothPath(poly,proj){
  const p=densify(poly).map(c=>proj(c[0],c[1]));
  const n=p.length,m=(a,b)=>[(a[0]+b[0])/2,(a[1]+b[1])/2];
  let s=m(p[n-1],p[0]),d='M'+s[0].toFixed(1)+' '+s[1].toFixed(1);
  for(let i=0;i<n;i++){
    const q=m(p[i],p[(i+1)%n]);
    d+='Q'+p[i][0].toFixed(1)+' '+p[i][1].toFixed(1)+' '+q[0].toFixed(1)+' '+q[1].toFixed(1);
  }
  return d+'Z';
}
function linePath(pts,proj){
  return pts.map((c,i)=>{const p=proj(c[0],c[1]);return (i?'L':'M')+p[0].toFixed(1)+' '+p[1].toFixed(1);}).join('');
}
function inside(poly,lon,lat){
  let c=false;
  for(let i=0,j=poly.length-1;i<poly.length;j=i++){
    const a=poly[i],b=poly[j];
    if((a[1]>lat)!==(b[1]>lat)&&lon<(b[0]-a[0])*(lat-a[1])/(b[1]-a[1])+a[0])c=!c;
  }
  return c;
}

function drawLayers(group,layers,proj,stroke){
  layers.forEach(function(layer){
    layer.regions.forEach(function(poly){
      const shape=el('path',group,{d:smoothPath(poly,proj),fill:layer.color,stroke:stroke,'stroke-width':0.9,'stroke-linejoin':'round'});
      
      
    });
  });
}

function drawFrame(root,proj,idSuffix,bg,layers,stroke,stipple,labels,levels,colors,barTitle,barTitleLen,x0,x1){
  const outline=[];
  for(let a=-90;a<=90;a+=5)outline.push(proj(180,a));
  for(let a=90;a>=-90;a-=5)outline.push(proj(-180,a));
  const od='M'+outline.map(p=>p[0].toFixed(1)+' '+p[1].toFixed(1)).join('L')+'Z';
  const defs=el('defs',root,{});
  const clip=el('clipPath',defs,{id:'clip'+idSuffix});
  el('path',clip,{d:od});
  const mapGroup=el('g',root,{'clip-path':'url(#clip'+idSuffix+')'});
  
  
  const bgShape=el('path',mapGroup,{d:od,fill:bg});
  
  
  drawLayers(mapGroup,layers,proj,stroke);

  if(stipple){
    let d='';
    const r=1.25;
    for(let lat=-88.75;lat<90;lat+=2.5){
      for(let lon=-180;lon<180;lon+=2.8125){
        if(stipple.include.some(pg=>inside(pg,lon,lat))&&!stipple.exclude.some(pg=>inside(pg,lon,lat))){
          const p=proj(lon,lat);
          d+='M'+(p[0]-r).toFixed(1)+' '+p[1].toFixed(1)+'a'+r+' '+r+' 0 1 0 '+(2*r)+' 0a'+r+' '+r+' 0 1 0 '+(-2*r)+' 0';
        }
      }
    }
    const dots=el('path',mapGroup,{d:d,fill:'#15140a'});
    
    
  }

  latTicks.forEach(function(lat){
    const a=proj(-180,lat),b=proj(180,lat);
    const gl=el('line',mapGroup,{x1:a[0],y1:a[1],x2:b[0],y2:b[1],stroke:'#3a3033','stroke-width':1,'stroke-dasharray':'5 2'});
    
    
  });
  lonTicks.forEach(function(lon){
    const pts=[];
    for(let a=-90;a<=90;a+=5)pts.push([lon,a]);
    const gl=el('path',mapGroup,{d:linePath(pts,proj),fill:'none',stroke:'#3a3033','stroke-width':0.8,'stroke-dasharray':'6 2 1 2'});
    
    
  });

  let borderD='';
  countryBorders.forEach(function(b){borderD+=linePath(b,proj);});
  const borders=el('path',mapGroup,{d:borderD,fill:'none',stroke:'rgba(20,10,20,.72)','stroke-width':0.7});
  
  
  let coastD='';
  coastlines.forEach(function(c){coastD+=linePath(c,proj);});
  const coast=el('path',mapGroup,{d:coastD,fill:'none',stroke:'#000','stroke-width':0.9,'stroke-linejoin':'round'});
  
  
  smallIslands.forEach(function(c){
    const p=proj(c[0],c[1]);
    const dot=el('circle',mapGroup,{cx:p[0],cy:p[1],r:0.9,fill:'#000'});
    
    
  });

  const frame=el('path',root,{d:od,fill:'none',stroke:'#222','stroke-width':0.9});
  
  

  labels.forEach(function(l){
    const p=proj(l[0],l[1]);
    const t=el('text',root,{x:p[0],y:p[1],'font-size':13,'text-anchor':'middle','dominant-baseline':'central',transform:'rotate('+l[2]+' '+p[0]+' '+p[1]+')'});
    t.textContent=l[3];
    
    
  });

  lonTicks.forEach(function(lon,i){
    const p=proj(lon,90);
    const shift=Math.abs(lon)===180?Math.sign(lon)*6:0;
    const extra=Math.abs(lon)===180?1:0;
    const top=el('text',root,{x:p[0]+shift,y:26+extra,'font-size':16.5,'text-anchor':'middle','dominant-baseline':'central'});
    top.textContent=lonTickLabels[i];
    
    
    const bottom=el('text',root,{x:p[0]+shift,y:498-extra,'font-size':16.5,'text-anchor':'middle','dominant-baseline':'central'});
    bottom.textContent=lonTickLabels[i];
    
    
  });
  latTicks.forEach(function(lat,i){
    const a=proj(-180,lat),b=proj(180,lat);
    const gap=Math.abs(lat)===60?11:8;
    const left=el('text',root,{x:a[0]-gap,y:a[1]-1,'font-size':16.5,'text-anchor':'end','dominant-baseline':'central'});
    left.textContent=latTickLabels[i];
    
    
    const right=el('text',root,{x:b[0]+gap,y:b[1]-1,'font-size':16.5,'text-anchor':'start','dominant-baseline':'central'});
    right.textContent=latTickLabels[i];
    
    
  });

  /* colour bar */
  const barTop=532.5,barBottom=544,n=levels.length-1;
  const bx=function(i){return x0+(x1-x0)*i/n;};
  colors.forEach(function(c,i){
    const seg=el('rect',root,{x:bx(i),y:barTop,width:bx(i+1)-bx(i)+0.4,height:barBottom-barTop,fill:c});
    
    
  });
  const bo=el('rect',root,{x:x0,y:barTop,width:x1-x0,height:barBottom-barTop,fill:'none',stroke:'#333','stroke-width':1});
  
  
  levels.forEach(function(v,i){
    const tick=el('line',root,{x1:bx(i),x2:bx(i),y1:barBottom,y2:barBottom+4,stroke:'#222','stroke-width':1});
    
    
    const lab=el('text',root,{x:bx(i),y:559,'font-size':16.5,'text-anchor':'middle','dominant-baseline':'central'});
    lab.textContent=v;
    
    
  });
  const title=el('text',root,{x:(x0+x1)/2,y:580.5,'font-size':16,'text-anchor':'middle','dominant-baseline':'central',textLength:barTitleLen,lengthAdjust:'spacingAndGlyphs'});
  title.textContent=barTitle;
  
  
}

/* ---------- panel a ---------- */
const tc=tempColors;
const layersA=[
 {name:'band-0.1-0.2',color:tc[7],regions:[salmonNorth,salmonPacific,salmonPlains,salmonIberia,salmonMaghreb,salmonBalkans,salmonTurkey,salmonPersia,salmonHimalaya]},
 {name:'band-0.0-0.1',color:tc[6],regions:[pinkGreenland]},
 {name:'band-neg0.1-0.0',color:tc[5],regions:negativeRegions.concat([negNorthAtlantic,negWesternCanada,negPrairie,negLabrador,violetBarents])},
 {name:'band-0.0-0.1',color:tc[6],regions:positiveIslands},
 {name:'band-neg0.2-neg0.1',color:'#6f4a9c',regions:[violetAmery]},
 {name:'band-0.2-0.3',color:tc[8],regions:[orangeNorth,orangeGreenlandRim,orangeRoss,orangeNortheastBrazil,orangeTibet]},
 {name:'band-0.3-0.4',color:tc[9],regions:[amberNorth]},
 {name:'band-0.4-0.5',color:tc[10],regions:[yellowWest,yellowEast,yellowCanada,amberYenisei]}
];
drawFrame(document.getElementById('panelA'),makeProjection(476.6),'A',tc[6],layersA,'rgba(45,25,50,.62)',null,labelsA,tempLevels,tempColors,'2m air temperature (tas) difference (C6BMB - smC6BMB) - [K]',531,49.6,903.6);

/* ---------- panel b ---------- */
const ec=effectColors;
const layersB=[
 {name:'band-0.01-0.20',color:ec[6],regions:[lightSouth,lightTropicalPacific]},
 {name:'band-neg0.20-neg0.01',color:ec[4],regions:negativeRegions},
 {name:'band-0.01-0.20',color:ec[6],regions:positiveIslands},
 {name:'band-neg0.50-neg0.20',color:ec[3],regions:[blueEquatorialBand,blueSouthwest,blueSouthAtlantic,blueCapeBand,blueArgentineBasin,blueEnderby,blueSoutheast,blueWilkes,bluePacificTropic,blueDrake,blueIndianEllipse]},
 {name:'band-neg0.80-neg0.50',color:ec[2],regions:[deepBlueA,deepBlueB,deepBlueC]},
 {name:'band-0.20-0.50',color:ec[7],regions:[tanEastAntarctica,tanRoss,tanAustralSea,tanAmundsen,tanMascarene,tanCoralSea,tanAustralia]},
 {name:'band-0.50-0.80',color:ec[8],regions:[oliveNorth,oliveSoutheastAsia,oliveMaritime,oliveCentralAfrica,oliveTasman]},
 {name:'band-0.20-0.50',color:ec[7],regions:[tanWesternUS,tanNorthAtlantic,tanCongo,tanZambia]},
 {name:'band-0.50-0.80',color:ec[8],regions:[oliveGulfStream,oliveTradeStripe,oliveGreenland]},
 {name:'band-0.80-1.20',color:ec[9],regions:[darkNorthAmerica,darkEurasia,darkBeringEdge,darkMiddleEast,darkMaghreb,darkLibya,darkEurope,darkEastPacific,darkCaribbean,darkPacificNorthwest,darkAleutianEdge,darkAndes]},
 {name:'band-1.20-2.00',color:ec[10],regions:[darkestNorthAmerica,darkestBeringEdge,darkestSiberiaA,darkestSiberiaB,darkestSiberiaC,darkestSiberiaD,darkestChinaA,darkestChinaB]},
 {name:'band-0.01-0.20',color:ec[6],regions:[lightLabrador,lightNordic,lightSahel,lightGuinea,lightVolta,lightCameroon,lightUbangi,lightLimpopo,lightIndia,lightArabianEllipse,lightBayEllipse,lightJavaSea]},
 {name:'band-neg0.20-neg0.01',color:ec[4],regions:[negNorthAtlantic,grayNordic]},
 {name:'band-neg0.01-0.01',color:ec[5],regions:[whiteAtlanticStreak,whiteSahelWest,whiteSahelCentral,whiteSahelEast,whiteDatelineBar]}
];
const stippleB={
 include:[oliveNorth,stippleWestPacific,stippleAndes,stippleSouthwest,stippleEastAntarctica,stippleCentralAfrica,stippleIndianPatch,stippleAustralSea,stippleSoutheastPacific,stippleAtlanticSouth,stippleGreenland,oliveTasman],
 exclude:[tanWesternUS,lightLabrador,lightNordic,stippleExcludeRussia,negNorthAtlantic]
};
drawFrame(document.getElementById('panelB'),makeProjection(1415.4),'B',ec[7],layersB,'rgba(25,25,15,.6)',stippleB,labelsB,effectLevels,effectColors,"Cohen's effect size - d - (C6BMB - smC6BMB) [-]",411,988.6,1842.4);
</script>
</body>
</html>
